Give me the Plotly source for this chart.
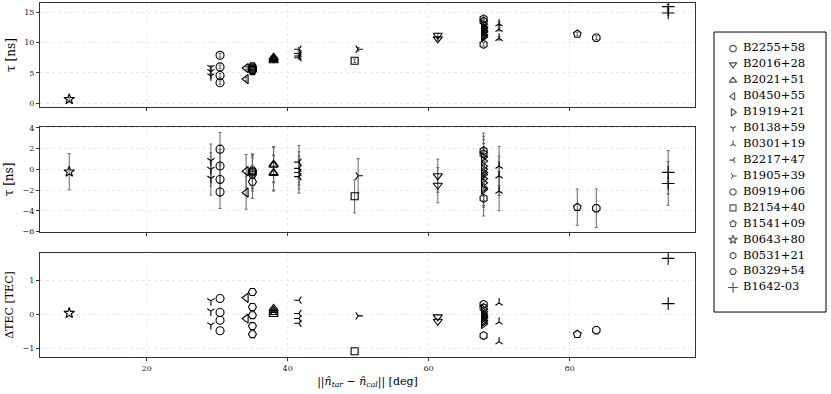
import plotly.graph_objects as go
from plotly.subplots import make_subplots

names = ["B2255+58", "B2016+28", "B2021+51", "B0450+55", "B1919+21", "B0138+59",
         "B0301+19", "B2217+47", "B1905+39", "B0919+06", "B2154+40", "B1541+09",
         "B0643+80", "B0531+21", "B0329+54", "B1642-03"]
symbols = ["circle-open", "triangle-down-open", "triangle-up-open", "triangle-left-open",
           "triangle-right-open", "y-down-open", "y-up-open", "y-left-open", "y-right-open",
           "octagon-open", "square-open", "pentagon-open", "star-open", "hexagon-open",
           "hexagon2-open", "cross-thin-open"]
separation = [30.4, 61.3, 38.0, 34.1, 67.8, 29.1, 70.0, 41.6, 50.0, 83.8, 49.5, 81.1,
              9.0, 67.8, 35.0, 94.0]

tau = [
    [7.9, 6.0, 4.6, 3.4],
    [11.2, 10.6],
    [7.6, 7.4, 7.2, 7.0],
    [5.8, 4.0],
    [13.0, 12.6, 12.4, 12.3, 12.0, 11.8, 11.7, 11.3, 11.1, 10.9],
    [5.9, 5.2, 4.5],
    [13.1, 12.2, 10.7],
    [8.9, 8.2, 7.8, 7.5],
    [8.9],
    [10.8],
    [7.0],
    [11.4],
    [0.7],
    [13.9, 13.5, 9.7],
    [6.1, 5.9, 5.7, 5.5, 5.3],
    [15.9, 14.85],
]
tau_err = [
    [0.3, 0.3, 0.3, 0.3],
    [0.3, 0.3],
    [0.3, 0.3, 0.3, 0.3],
    [0.3, 0.3],
    [0.3, 0.3, 0.3, 0.3, 0.3, 0.3, 0.3, 0.3, 0.3, 0.3],
    [0.3, 0.3, 0.3],
    [0.3, 0.3, 0.3],
    [0.3, 0.3, 0.3, 0.3],
    [0.3],
    [0.3],
    [0.3],
    [0.3],
    [0.3],
    [0.3, 0.3, 0.3],
    [0.3, 0.3, 0.3, 0.3, 0.3],
    [0.35, 0.35],
]
tau_res = [
    [1.95, 0.32, -0.98, -2.18],
    [-0.62, -1.53],
    [0.5, 0.4, -0.3, -0.4],
    [-0.17, -2.25],
    [1.2, 0.8, 0.3, 0.0, -0.3, -0.5, -0.9, -1.3, -1.8, -1.95],
    [0.84, 0.0, -0.88],
    [0.32, -0.62, -2.09],
    [0.7, 0.1, -0.3, -0.7],
    [-0.62],
    [-3.75],
    [-2.6],
    [-3.65],
    [-0.23],
    [1.8, 1.5, -2.8],
    [-0.1, -0.2, -0.3, -0.5, -1.2],
    [-0.29, -1.37],
]
tau_res_err = [
    [1.6, 1.6, 1.6, 1.6],
    [1.6, 1.7],
    [1.7, 1.7, 1.7, 1.7],
    [1.6, 1.6],
    [1.7, 1.7, 1.7, 1.7, 1.7, 1.7, 1.7, 1.7, 1.7, 1.7],
    [1.6, 1.6, 1.6],
    [1.9, 1.9, 1.9],
    [1.6, 1.6, 1.6, 1.6],
    [1.65],
    [1.85],
    [1.6],
    [1.75],
    [1.75],
    [1.7, 1.7, 1.7],
    [1.6, 1.6, 1.6, 1.6, 1.6],
    [2.1, 2.1],
]
dtec = [
    [0.47, 0.06, -0.17, -0.48],
    [-0.07, -0.2],
    [0.18, 0.12, 0.06, 0.0],
    [0.49, -0.12],
    [0.15, 0.08, 0.02, -0.03, -0.08, -0.12, -0.18, -0.22, -0.28, -0.05],
    [0.4, 0.1, -0.31],
    [0.34, -0.22, -0.8],
    [0.42, 0.03, -0.12, -0.26],
    [-0.04],
    [-0.46],
    [-1.08],
    [-0.58],
    [0.04],
    [0.3, 0.2, -0.62],
    [0.66, 0.22, -0.02, -0.34, -0.58],
    [1.65, 0.32],
]

FONT = "DejaVu Serif"
ERRC = "#666666"
# marker sizes per symbol (style only)
SIZE = {"y-down-open": 6, "y-up-open": 6, "y-left-open": 6, "y-right-open": 6,
        "star-open": 8, "cross-thin-open": 9, "square-open": 7}
LSIZE = {"y-down-open": 4.5, "y-up-open": 4.5, "y-left-open": 4.5, "y-right-open": 4.5,
         "star-open": 6.5, "cross-thin-open": 7, "square-open": 6}

fig = make_subplots(rows=3, cols=1, shared_xaxes=False, vertical_spacing=0.05)

for i, name in enumerate(names):
    n = len(tau[i])
    xs = [separation[i]] * n
    mk = dict(symbol=symbols[i], size=SIZE.get(symbols[i], 8), color="black",
              line=dict(color="black", width=1.1))
    fig.add_trace(go.Scatter(
        x=xs, y=tau[i], mode="markers", name=name, marker=mk, showlegend=False,
        error_y=dict(type="data", array=tau_err[i], color=ERRC, thickness=1, width=1.5)),
        row=1, col=1)
    fig.add_trace(go.Scatter(
        x=xs, y=tau_res[i], mode="markers", name=name, marker=mk, showlegend=False,
        error_y=dict(type="data", array=tau_res_err[i], color=ERRC, thickness=1, width=1.5)),
        row=2, col=1)
    fig.add_trace(go.Scatter(
        x=xs, y=dtec[i], mode="markers", name=name, marker=mk, showlegend=False),
        row=3, col=1)

# custom legend drawn on its own axes
leg_idx = list(range(len(names)))
fig.add_trace(go.Scatter(
    x=[0.17] * len(names), y=leg_idx, mode="markers", showlegend=False, hoverinfo="skip",
    marker=dict(symbol=symbols, size=[LSIZE.get(s, 6.5) for s in symbols], color="black",
                line=dict(color="black", width=1.1)),
    xaxis="x4", yaxis="y4"))
fig.add_trace(go.Scatter(
    x=[0.26] * len(names), y=leg_idx, mode="text", text=names, textposition="middle right",
    textfont=dict(family=FONT, size=11.5, color="black"), showlegend=False, hoverinfo="skip",
    xaxis="x4", yaxis="y4"))

axcommon = dict(showline=True, linecolor="#333333", linewidth=1, mirror=True,
                ticks="outside", ticklen=3, tickcolor="#333333", automargin=False,
                showgrid=True, gridcolor="#ebebeb", griddash="dot", gridwidth=1,
                zeroline=False, tickfont=dict(family=FONT, size=8, color="#222"))

main_dom = [0.0, 0.8333]
domains = [[0.706, 1.0], [0.353, 0.650], [0.0, 0.294]]
for r in range(1, 4):
    fig.update_xaxes(domain=main_dom, range=[4.85, 97.8], tickvals=[20, 40, 60, 80],
                     showticklabels=(r == 3), row=r, col=1, **axcommon)
    fig.update_yaxes(domain=domains[r - 1], row=r, col=1, **axcommon)

fig.update_yaxes(range=[-0.6, 16.5], tickvals=[0, 5, 10, 15], row=1, col=1,
                 title=dict(text="τ [ns]", font=dict(family=FONT, size=12), standoff=6))
fig.update_yaxes(range=[-6.05, 4.1], tickvals=[-6, -4, -2, 0, 2, 4], row=2, col=1,
                 title=dict(text="τ [ns]", font=dict(family=FONT, size=12), standoff=6))
fig.update_yaxes(range=[-1.25, 1.81], tickvals=[-1, 0, 1], row=3, col=1,
                 title=dict(text="ΔTEC [TEC]", font=dict(family=FONT, size=11), standoff=6))
fig.update_xaxes(row=3, col=1,
                 title=dict(text="||<i>n̂</i><sub><i>tar</i></sub> − <i>n̂</i><sub><i>cal</i></sub>|| [deg]",
                            font=dict(family=FONT, size=11), standoff=5))

fig.update_layout(
    width=831, height=394,
    margin=dict(l=40, r=5, t=3, b=37, autoexpand=False),
    paper_bgcolor="white", plot_bgcolor="white",
    font=dict(family=FONT, color="black"),
    showlegend=False,
    xaxis4=dict(domain=[0.8575, 1.0], range=[0, 1], visible=False, fixedrange=True,
                automargin=False),
    yaxis4=dict(domain=[0.127, 0.918], range=[16.54, -1.04], visible=False, fixedrange=True,
                anchor="x4", automargin=False),
    shapes=[dict(type="rect", xref="x4 domain", yref="y4 domain", x0=0, x1=1, y0=0, y1=1,
                 line=dict(color="black", width=1), fillcolor="rgba(0,0,0,0)")],
)
fig.update_layout(xaxis4_anchor="y4")

fig.write_html("out.html", config={"displayModeBar": False},
               post_script="document.body.style.margin='0px';document.body.style.overflow='hidden';")
